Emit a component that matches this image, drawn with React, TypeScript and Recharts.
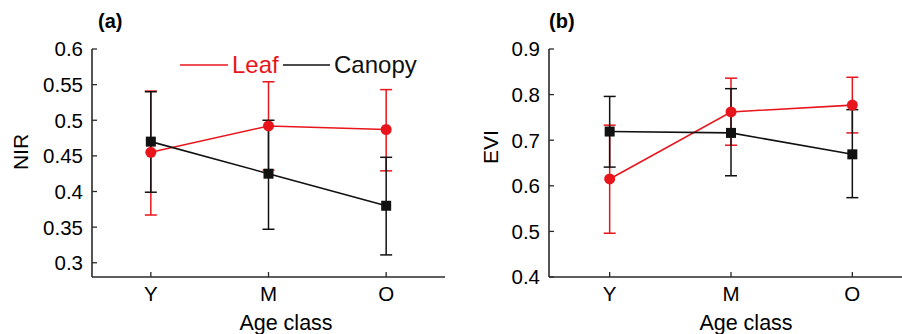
import React from "react";
import { LineChart, Line, XAxis, YAxis, ErrorBar } from "recharts";

// values
const ageClasses = ["Y", "M", "O"];

const nirLeaf = [0.455, 0.492, 0.487];
const nirLeafLow = [0.367, 0.43, 0.429];
const nirLeafHigh = [0.541, 0.554, 0.543];
const nirCanopy = [0.47, 0.425, 0.38];
const nirCanopyLow = [0.399, 0.347, 0.311];
const nirCanopyHigh = [0.54, 0.5, 0.448];
const nirTicks = [0.3, 0.35, 0.4, 0.45, 0.5, 0.55, 0.6];

const eviLeaf = [0.615, 0.762, 0.777];
const eviLeafLow = [0.496, 0.689, 0.716];
const eviLeafHigh = [0.733, 0.836, 0.838];
const eviCanopy = [0.719, 0.716, 0.669];
const eviCanopyLow = [0.641, 0.622, 0.574];
const eviCanopyHigh = [0.796, 0.813, 0.767];
const eviTicks = [0.4, 0.5, 0.6, 0.7, 0.8, 0.9];

const RED = "#e8161c";
const BLACK = "#111111";
const AXIS = "#2a2a2a";
const FONT = "'Liberation Sans', Arial, sans-serif";

const buildRows = (
  leaf: number[], leafLow: number[], leafHigh: number[],
  canopy: number[], canopyLow: number[], canopyHigh: number[]
) =>
  ageClasses.map((age, i) => ({
    age,
    leaf: leaf[i],
    leafErr: [leaf[i] - leafLow[i], leafHigh[i] - leaf[i]],
    canopy: canopy[i],
    canopyErr: [canopy[i] - canopyLow[i], canopyHigh[i] - canopy[i]],
  }));

const nirRows = buildRows(nirLeaf, nirLeafLow, nirLeafHigh, nirCanopy, nirCanopyLow, nirCanopyHigh);
const eviRows = buildRows(eviLeaf, eviLeafLow, eviLeafHigh, eviCanopy, eviCanopyLow, eviCanopyHigh);

// ticks point inward like matlab
const LeftTick = (props: any) => {
  const { x, y, payload } = props;
  return (
    <g>
      <line x1={x + 9} x2={x + 14} y1={y} y2={y} stroke={AXIS} strokeWidth={1.3} />
      <text x={x} y={y} dy="0.36em" textAnchor="end" fontSize={20.5} fontFamily={FONT} fill="#000">
        {String(payload.value)}
      </text>
    </g>
  );
};

const RightTick = (props: any) => {
  const { x, y } = props;
  return <line x1={x - 5} x2={x} y1={y} y2={y} stroke={AXIS} strokeWidth={1.3} />;
};

const BottomTick = (props: any) => {
  const { x, y, payload } = props;
  return (
    <g>
      <line x1={x} x2={x} y1={y - 9} y2={y - 14} stroke={AXIS} strokeWidth={1.3} />
      <text x={x} y={y} dy="0.72em" textAnchor="middle" fontSize={20.5} fontFamily={FONT} fill="#000">
        {payload.value}
      </text>
    </g>
  );
};

const TopTick = (props: any) => {
  const { x, y } = props;
  return <line x1={x} x2={x} y1={y} y2={y + 5} stroke={AXIS} strokeWidth={1.3} />;
};

const SquareDot = (props: any) => {
  const { cx, cy, index } = props;
  if (cx == null || cy == null) return null;
  return <rect key={index} x={cx - 5} y={cy - 5} width={10} height={10} fill={BLACK} />;
};

type PanelProps = {
  rows: any[];
  domain: [number, number];
  ticks: number[];
  width: number;
  yAxisWidth: number;
  rightMargin: number;
};

const Panel = ({ rows, domain, ticks, width, yAxisWidth, rightMargin }: PanelProps) => {
  // half a category of space on each side, like matlab's xlim [0.5 3.5]
  const pad = (width - yAxisWidth - rightMargin) / 6;
  return (
    <LineChart
      width={width}
      height={334}
      data={rows}
      margin={{ top: 49, right: rightMargin, bottom: 0, left: 0 }}
    >
      <XAxis
        dataKey="age"
        height={57}
        padding={{ left: pad, right: pad }}
        tickSize={0}
        tickMargin={9}
        tick={<BottomTick />}
        axisLine={{ stroke: AXIS, strokeWidth: 1.6 }}
        tickLine={false}
      />
      <XAxis
        xAxisId="top"
        dataKey="age"
        orientation="top"
        height={0}
        padding={{ left: pad, right: pad }}
        tickSize={0}
        tickMargin={0}
        tick={<TopTick />}
        axisLine={{ stroke: AXIS, strokeWidth: 1.6 }}
        tickLine={false}
      />
      <YAxis
        type="number"
        domain={domain}
        ticks={ticks}
        allowDataOverflow
        width={yAxisWidth}
        tickSize={0}
        tickMargin={9}
        tick={<LeftTick />}
        axisLine={{ stroke: AXIS, strokeWidth: 1.6 }}
        tickLine={false}
      />
      <YAxis
        yAxisId="right"
        orientation="right"
        type="number"
        domain={domain}
        ticks={ticks}
        allowDataOverflow
        width={0}
        tickSize={0}
        tickMargin={0}
        tick={<RightTick />}
        axisLine={{ stroke: AXIS, strokeWidth: 1.6 }}
        tickLine={false}
      />
      <Line
        dataKey="leaf"
        stroke={RED}
        strokeWidth={1.6}
        dot={{ r: 5.5, fill: RED, stroke: RED, strokeWidth: 0 }}
        isAnimationActive={false}
      >
        <ErrorBar dataKey="leafErr" direction="y" width={6} stroke={RED} strokeWidth={1.5} isAnimationActive={false} />
      </Line>
      <Line
        dataKey="canopy"
        stroke={BLACK}
        strokeWidth={1.6}
        dot={<SquareDot />}
        isAnimationActive={false}
      >
        <ErrorBar dataKey="canopyErr" direction="y" width={6} stroke={BLACK} strokeWidth={1.5} isAnimationActive={false} />
      </Line>
    </LineChart>
  );
};

export default function App() {
  return (
    <div style={{ position: "absolute", left: 0, top: 0, width: 902, height: 334, overflow: "hidden", background: "#fff" }}>
      <div style={{ position: "absolute", left: 0, top: 0 }}>
        <Panel rows={nirRows} domain={[0.28, 0.6]} ticks={nirTicks} width={450} yAxisWidth={92} rightMargin={5} />
      </div>
      <div style={{ position: "absolute", left: 450, top: 0 }}>
        <Panel rows={eviRows} domain={[0.4, 0.9]} ticks={eviTicks} width={470} yAxisWidth={99} rightMargin={7} />
      </div>
      <svg width={902} height={334} style={{ position: "absolute", left: 0, top: 0, pointerEvents: "none" }} fontFamily={FONT}>
        <text x={98} y={28} fontSize={20} fontWeight="bold">(a)</text>
        <text x={549} y={28} fontSize={20} fontWeight="bold">(b)</text>
        <text transform="translate(28,152) rotate(-90)" textAnchor="middle" fontSize={21}>NIR</text>
        <text transform="translate(498,147) rotate(-90)" textAnchor="middle" fontSize={21}>EVI</text>
        <text x={286} y={330} textAnchor="middle" fontSize={21.5}>Age class</text>
        <text x={746} y={330} textAnchor="middle" fontSize={21.5}>Age class</text>
        <line x1={180} x2={228} y1={65} y2={65} stroke={RED} strokeWidth={1.6} />
        <text x={232} y={73} fontSize={24} fill={RED}>Leaf</text>
        <line x1={283} x2={330} y1={65} y2={65} stroke={BLACK} strokeWidth={1.6} />
        <text x={334} y={73} fontSize={24} fill={BLACK}>Canopy</text>
      </svg>
    </div>
  );
}
